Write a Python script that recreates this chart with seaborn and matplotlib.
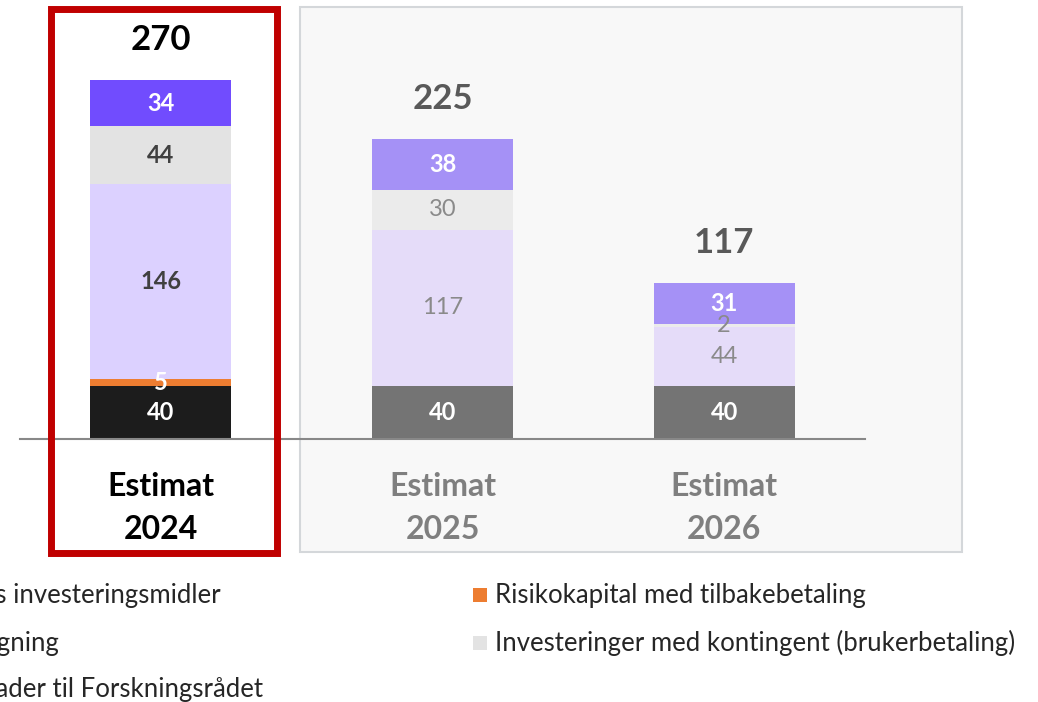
import numpy as np
import pandas as pd
import seaborn as sns
import matplotlib.pyplot as plt
from matplotlib.patches import Rectangle

# data, stacked bottom -> top
categories = ["Estimat\n2024", "Estimat\n2025", "Estimat\n2026"]
series_names = ["Forskningsrådets investeringsmidler", "Risikokapital med tilbakebetaling",
                "Bevilgning", "Investeringer med kontingent (brukerbetaling)",
                "Søknader til Forskningsrådet"]
investeringsmidler = [40, 40, 40]
risikokapital = [5, 0, 0]
bevilgning = [146, 117, 44]
kontingent = [44, 30, 2]
soknader = [34, 38, 31]
totals = [270, 225, 117]

layers = [investeringsmidler, risikokapital, bevilgning, kontingent, soknader]

# colours: highlighted first bar, faded for the others
hi_colors = ["#1c1c1c", "#ed7d31", "#dcd1ff", "#e3e3e3", "#714cfe"]
lo_colors = ["#747474", "#f4b183", "#e5dcf9", "#ebebeb", "#a591f6"]
hi_text = ["white", "white", "#404040", "#404040", "white"]
lo_text = ["white", "#808080", "#8a8a8a", "#8a8a8a", "white"]

sns.set_theme(style="white")
plt.rcParams["font.family"] = ["Lato", "DejaVu Sans"]

W, H = 1038, 702
fig = plt.figure(figsize=(W / 100, H / 100), dpi=100)

# background panel behind the forecast years
fig.add_artist(Rectangle((300 / W, 1 - 552 / H), (962 - 300) / W, (552 - 7) / H,
                         transform=fig.transFigure, facecolor="#f8f8f8",
                         edgecolor="#d4d7da", linewidth=1.5, zorder=-1))

ax = fig.add_axes([20 / W, 263 / H, 845 / W, 439 / H])
ax.set_facecolor("none")

df = pd.DataFrame({"kategori": categories})
cum = np.cumsum(np.array(layers), axis=0)
# draw cumulative heights from top layer down so each covers the one above
for i in range(len(layers) - 1, -1, -1):
    df["h"] = cum[i]
    pal = [hi_colors[i], lo_colors[i], lo_colors[i]]
    sns.barplot(data=df, x="kategori", y="h", hue="kategori", palette=pal,
                width=0.5, saturation=1, errorbar=None, legend=False,
                linewidth=0, ax=ax)

# segment labels
for j in range(3):
    bottom = 0
    for i, layer in enumerate(layers):
        v = layer[j]
        if v > 0:
            if j == 0:
                col, wt = hi_text[i], "bold"
            else:
                col = lo_text[i]
                wt = "bold" if col == "white" else "normal"
            ax.text(j, bottom + v / 2, str(v), ha="center", va="center",
                    fontsize=17, color=col, fontweight=wt)
        bottom += v
    ax.text(j, sum(l[j] for l in layers) + 30, str(totals[j]), ha="center",
            va="center", fontsize=25, fontweight="bold",
            color="#000000" if j == 0 else "#595959")

ax.set_xlim(-0.5, 2.5)
ax.set_ylim(0, 439 / 1.333)
ax.set_yticks([])
ax.set_xlabel("")
ax.set_ylabel("")
for s in ["top", "left", "right"]:
    ax.spines[s].set_visible(False)
ax.spines["bottom"].set_color("#888888")
ax.spines["bottom"].set_linewidth(1.5)
ax.set_xticks(range(3))
ax.set_xticklabels(categories)
ax.tick_params(axis="x", length=0, pad=24)
for j, t in enumerate(ax.get_xticklabels()):
    t.set_fontsize(23)
    t.set_fontweight("bold")
    t.set_linespacing(1.55)
    t.set_color("#000000" if j == 0 else "#7f7f7f")

# red highlight frame around 2024
fig.add_artist(Rectangle((50.5 / W, 1 - 552.5 / H), (276.5 - 50.5) / W, (552.5 - 8.5) / H,
                         transform=fig.transFigure, facecolor="none",
                         edgecolor="#c00000", linewidth=5, zorder=5))

# legend (left column is cut off at the image edge)
leg_fs = 18.5
left_items = [(0, 221, 595), (2, 60, 643), (4, 263, 690)]
for i, xr, yc in left_items:
    fig.text(xr / W, 1 - yc / H, series_names[i], ha="right", va="center",
             fontsize=leg_fs, color="#262626")
right_items = [(1, 595), (3, 643)]
for i, yc in right_items:
    fig.add_artist(Rectangle((473 / W, 1 - (yc + 7) / H), 14 / W, 14 / H,
                             transform=fig.transFigure, facecolor=hi_colors[i],
                             edgecolor="none"))
    fig.text(495 / W, 1 - yc / H, series_names[i], ha="left", va="center",
             fontsize=leg_fs, color="#262626")

fig.savefig("out.png", dpi=100)
